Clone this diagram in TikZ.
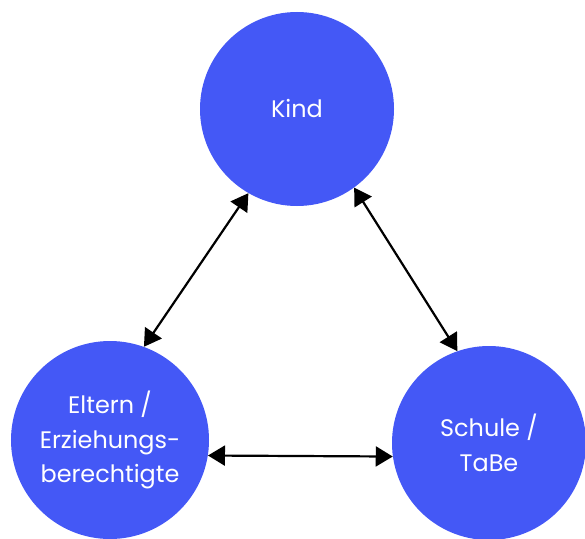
\documentclass[tikz,border=0pt]{standalone}
\usepackage{fontspec}
\setmainfont{Poppins}
\usepackage{tikz}
\usetikzlibrary{arrows.meta}
\definecolor{kreis}{HTML}{4458F6}

\begin{document}
\begin{tikzpicture}[x=1bp,y=-1bp,
  kreis/.style={circle, fill=kreis, text=white, minimum size=194bp, inner sep=0pt, align=center, font=\fontsize{24}{35}\selectfont},
  pfeil/.style={{Triangle[length=17bp,width=20bp]}-{Triangle[length=17bp,width=20bp]}, line width=2.2bp}]
\useasboundingbox (0,0) rectangle (585,539);
\node[kreis] (K) at (297,109) {Kind};
\node[kreis, minimum size=198bp] (E) at (110,440) {Eltern /\\Erziehungs-\\berechtigte};
\node[kreis] (S) at (489,443) {Schule /\\TaBe};
%
\draw[pfeil] (K.240) -- (E.70);
\draw[pfeil] (K.306) -- (S.109);
\draw[pfeil] (E.-9) -- (S.188);
\end{tikzpicture}
\end{document}
